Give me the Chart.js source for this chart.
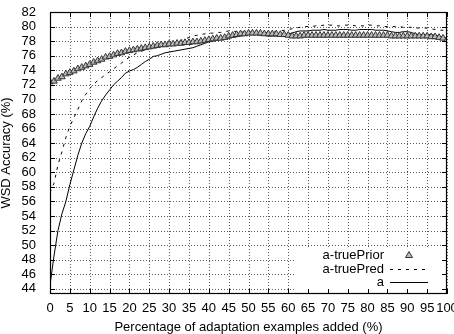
<!DOCTYPE html>
<html>
<head>
<meta charset="utf-8">
<script src="https://cdn.jsdelivr.net/npm/chart.js@4/dist/chart.umd.min.js"></script>
<style>
html,body{margin:0;padding:0;background:#fff;}
#wrap{width:454px;height:334px;position:relative;}
</style>
</head>
<body>
<div id="wrap"><canvas id="c" width="454" height="334"></canvas></div>
<script>
// Percentage of adaptation examples added (0..100 step 1)
const xValues = Array.from({length: 101}, (_, i) => i);
const xTicks = [0,5,10,15,20,25,30,35,40,45,50,55,60,65,70,75,80,85,90,95,100];
const yTicks = [44,46,48,50,52,54,56,58,60,62,64,66,68,70,72,74,76,78,80,82];
const seriesNames = ["a-truePrior", "a-truePred", "a"];

const truePrior = [
72.4,72.5,72.9,73.1,73.5,73.7,73.9,74.2,74.4,74.6,
74.8,75.1,75.3,75.5,75.8,75.9,76.1,76.3,76.4,76.6,
76.7,76.8,76.9,77.0,77.1,77.2,77.3,77.4,77.5,77.5,
77.6,77.6,77.7,77.7,77.8,77.8,77.9,77.9,78.0,78.1,
78.2,78.3,78.4,78.4,78.5,78.7,78.8,78.9,79.0,79.0,
79.1,79.1,79.1,79.1,79.0,79.0,79.0,79.0,78.9,78.9,
78.8,78.7,78.7,78.7,78.8,78.8,78.8,78.8,78.8,78.8,
78.8,78.8,78.8,78.8,78.8,78.8,78.8,78.8,78.8,78.8,
78.8,78.8,78.8,78.8,78.8,78.8,78.7,78.7,78.7,78.7,
78.7,78.7,78.7,78.7,78.7,78.7,78.6,78.6,78.5,78.4,
78.2];
const truePred = [
57.2,58.5,61.0,62.8,64.8,66.3,67.5,68.6,69.8,70.7,
71.5,72.1,72.6,73.0,73.4,73.8,74.2,74.6,75.0,75.4,
75.8,76.1,76.4,76.6,76.8,77.0,77.1,77.2,77.3,77.5,
77.6,77.7,77.9,78.1,78.3,78.5,78.7,78.8,78.9,79.0,
79.1,79.1,79.2,79.2,79.3,79.4,79.4,79.3,79.3,79.2,
79.2,79.3,79.2,79.1,79.1,79.2,79.2,79.3,79.4,79.5,
79.6,79.7,79.8,79.9,80.0,80.0,80.0,80.1,80.1,80.2,
80.2,80.2,80.1,80.1,80.2,80.2,80.2,80.1,80.1,80.1,
80.2,80.2,80.1,80.1,80.0,80.0,80.0,80.0,80.0,79.9,
79.9,79.9,79.8,79.8,79.8,79.8,79.7,79.6,79.5,79.5,
79.4];
const aSeries = [
44.5,48.5,52.0,54.3,56.0,58.3,60.3,62.3,64.0,65.3,
66.3,67.6,68.8,69.8,70.6,71.3,72.0,72.5,73.0,73.6,
73.9,74.1,74.4,74.8,75.2,75.5,75.9,76.0,76.2,76.4,
76.5,76.6,76.7,76.8,76.9,77.0,77.1,77.3,77.5,77.7,
77.9,78.0,78.1,78.2,78.3,78.4,78.5,78.6,78.7,78.8,
78.9,78.9,78.9,78.8,78.8,78.7,78.7,78.7,78.8,78.9,
79.0,79.1,79.3,79.4,79.4,79.4,79.5,79.5,79.5,79.6,
79.5,79.5,79.5,79.6,79.6,79.6,79.5,79.5,79.6,79.6,
79.6,79.6,79.5,79.5,79.5,79.4,79.3,79.2,79.2,79.3,
79.3,79.2,79.0,78.9,78.9,78.9,78.9,78.8,78.7,78.5,
78.4];

const FONT = "'Liberation Sans', Arial, sans-serif";
const toXY = arr => arr.map((v, i) => ({x: xValues[i], y: v}));

const framePlugin = {
  id: 'frame',
  beforeDatasetsDraw(chart) {
    const a = chart.chartArea, ctx = chart.ctx;
    const xs = chart.scales.x, ys = chart.scales.y;
    ctx.save();
    ctx.strokeStyle = 'rgba(0,0,0,0.65)';
    ctx.lineWidth = 1;
    ctx.setLineDash([1, 2]);
    ctx.beginPath();
    xTicks.forEach(v => {
      const px = Math.round(xs.getPixelForValue(v)) + 0.5;
      ctx.moveTo(px, a.top); ctx.lineTo(px, a.bottom);
    });
    yTicks.forEach(v => {
      const py = Math.round(ys.getPixelForValue(v)) + 0.5;
      ctx.moveTo(a.left, py); ctx.lineTo(a.right, py);
    });
    ctx.stroke();
    ctx.setLineDash([]);
    ctx.fillStyle = '#fff';
    ctx.fillRect(a.right - 151, a.bottom - 46, 151, 46);
    ctx.restore();
  },
  afterDraw(chart) {
    const a = chart.chartArea, ctx = chart.ctx;
    const xs = chart.scales.x, ys = chart.scales.y;
    ctx.save();
    ctx.strokeStyle = '#000';
    ctx.lineWidth = 1.2;
    ctx.strokeRect(a.left + 0.5, a.top + 0.5, a.right - a.left - 1, a.bottom - a.top - 1);
    ctx.lineWidth = 1;
    ctx.beginPath();
    const tl = 5;
    xTicks.forEach(v => {
      const px = Math.round(xs.getPixelForValue(v)) + 0.5;
      ctx.moveTo(px, a.bottom); ctx.lineTo(px, a.bottom - tl);
      ctx.moveTo(px, a.top); ctx.lineTo(px, a.top + tl);
    });
    yTicks.forEach(v => {
      const py = Math.round(ys.getPixelForValue(v)) + 0.5;
      ctx.moveTo(a.left, py); ctx.lineTo(a.left + tl, py);
      ctx.moveTo(a.right, py); ctx.lineTo(a.right - tl, py);
    });
    ctx.stroke();

    // legend
    ctx.font = '13px ' + FONT;
    ctx.fillStyle = '#000';
    ctx.textAlign = 'right';
    ctx.textBaseline = 'middle';
    const tx = a.right - 63, sx0 = a.right - 57, sx1 = a.right - 19;
    const rows = [a.bottom - 39, a.bottom - 25, a.bottom - 12];
    seriesNames.forEach((n, i) => ctx.fillText(n, tx, rows[i]));
    // triangle sample
    const cx = (sx0 + sx1) / 2, cy = rows[0];
    ctx.beginPath();
    ctx.moveTo(cx, cy - 3.5); ctx.lineTo(cx + 3.5, cy + 2.5); ctx.lineTo(cx - 3.5, cy + 2.5); ctx.closePath();
    ctx.fillStyle = '#bbb'; ctx.fill();
    ctx.strokeStyle = '#333'; ctx.lineWidth = 1; ctx.stroke();
    ctx.strokeStyle = '#000';
    ctx.beginPath(); ctx.setLineDash([3, 5]);
    ctx.moveTo(sx0, rows[1] + 0.5); ctx.lineTo(sx1, rows[1] + 0.5); ctx.stroke();
    ctx.setLineDash([]);
    ctx.beginPath();
    ctx.moveTo(sx0, rows[2] + 0.5); ctx.lineTo(sx1, rows[2] + 0.5); ctx.stroke();

    // axis titles
    ctx.fillStyle = '#000';
    ctx.textAlign = 'center';
    ctx.fillText('Percentage of adaptation examples added (%)', (a.left + a.right) / 2, 327);
    ctx.translate(6, (a.top + a.bottom) / 2);
    ctx.rotate(-Math.PI / 2);
    ctx.fillText('WSD Accuracy (%)', 0, 0);
    ctx.restore();
  }
};

new Chart(document.getElementById('c'), {
  type: 'scatter',
  data: {
    datasets: [
      {
        label: seriesNames[0], data: toXY(truePrior), showLine: false,
        pointStyle: 'triangle', pointRadius: 3.8, pointBorderWidth: 1,
        borderColor: '#333', backgroundColor: '#bbb', order: 0
      },
      {
        label: seriesNames[1], data: toXY(truePred), showLine: true,
        borderColor: '#000', borderWidth: 1, borderDash: [3, 5], pointRadius: 0, order: 1
      },
      {
        label: seriesNames[2], data: toXY(aSeries), showLine: true,
        borderColor: '#000', borderWidth: 1, pointRadius: 0, order: 2
      }
    ]
  },
  options: {
    responsive: false, animation: false,
    devicePixelRatio: 1,
    layout: {padding: {left: 0, right: 7, top: 12, bottom: 0}},
    plugins: {legend: {display: false}, tooltip: {enabled: false}},
    scales: {
      x: {
        type: 'linear', min: 0, max: 100,
        afterBuildTicks: s => { s.ticks = xTicks.map(v => ({value: v})); },
        afterFit: s => { s.height = 40; s.paddingLeft = 0; s.paddingRight = 0; },
        border: {display: false},
        grid: {display: false},
        ticks: {autoSkip: false, maxRotation: 0, minRotation: 0, padding: -1, color: '#000', font: {family: FONT, size: 13}}
      },
      y: {
        type: 'linear', min: 43.3, max: 82,
        afterBuildTicks: s => { s.ticks = yTicks.map(v => ({value: v})); },
        afterFit: s => { s.width = 50; s.paddingTop = 0; s.paddingBottom = 0; },
        border: {display: false},
        grid: {display: false},
        ticks: {autoSkip: false, padding: 6, color: '#000', font: {family: FONT, size: 13}}
      }
    }
  },
  plugins: [framePlugin]
});
</script>
</body>
</html>
